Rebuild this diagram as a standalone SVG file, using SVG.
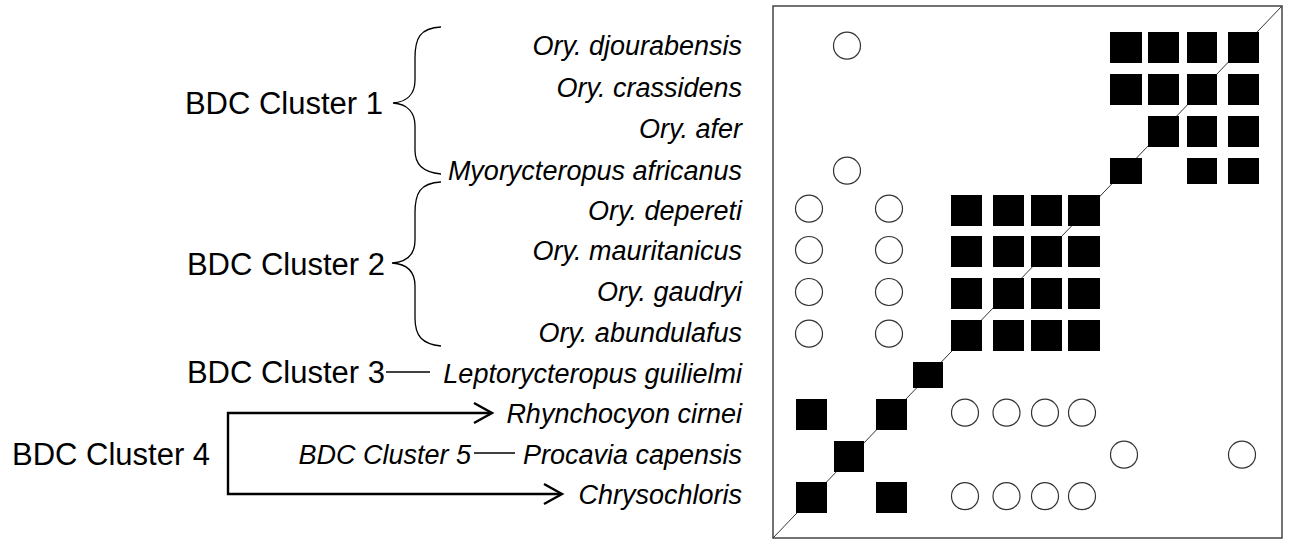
<svg xmlns="http://www.w3.org/2000/svg" width="1309" height="540" viewBox="0 0 1309 540">
<defs>
<style>
.sp{font-family:"Liberation Sans",Arial,sans-serif;font-style:italic;font-size:27px;fill:#000;text-anchor:end}
.cl{font-family:"Liberation Sans",Arial,sans-serif;font-size:31px;fill:#000}
.br{fill:none;stroke:#000;stroke-width:1.3}
.ln{fill:none;stroke:#000;stroke-width:1.3}
.bk{fill:none;stroke:#000;stroke-width:2.4}
.sq{fill:#000}
.ci{fill:#fff;stroke:#333;stroke-width:1.2}
</style>
</defs>
<rect width="1309" height="540" fill="#fff"/>
<g id="connectors">
<path class="br" d="M441,27 C420,28 415,38 415,58 L415,80 C415,94 407,102 393,103 C407,104 415,112 415,126 L415,150 C415,164 422,172 441,174"/>
<path class="br" d="M441,182 C420,183 415,193 415,213 L415,240 C415,254 407,262 392,263 C407,264 415,272 415,286 L415,318 C415,336 422,344 441,346"/>
<line class="ln" x1="386" y1="372" x2="430" y2="372"/>
<line class="ln" x1="474" y1="453" x2="515" y2="453"/>
<path class="bk" d="M491,413 H228 V494 H561"/>
<polyline class="bk" points="474,403 492,413 474,423"/>
<polyline class="bk" points="544,484 562,494 544,504"/>
</g>
<g id="cluster1"><text class="cl" x="383" y="114" text-anchor="end">BDC Cluster 1</text></g>
<g id="cluster2"><text class="cl" x="385" y="275" text-anchor="end">BDC Cluster 2</text></g>
<g id="cluster3"><text class="cl" x="385" y="383" text-anchor="end">BDC Cluster 3</text></g>
<g id="cluster4"><text class="cl" x="12" y="465">BDC Cluster 4</text></g>
<g id="cluster5"><text class="sp" x="471" y="464">BDC Cluster 5</text></g>
<g id="species">
<text class="sp" x="742" y="55">Ory. djourabensis</text>
<text class="sp" x="742" y="97">Ory. crassidens</text>
<text class="sp" x="742" y="138">Ory. afer</text>
<text class="sp" x="742" y="180">Myorycteropus africanus</text>
<text class="sp" x="742" y="220">Ory. depereti</text>
<text class="sp" x="742" y="260">Ory. mauritanicus</text>
<text class="sp" x="742" y="301">Ory. gaudryi</text>
<text class="sp" x="742" y="342">Ory. abundulafus</text>
<text class="sp" x="742" y="383">Leptorycteropus guilielmi</text>
<text class="sp" x="742" y="423">Rhynchocyon cirnei</text>
<text class="sp" x="742" y="464">Procavia capensis</text>
<text class="sp" x="742" y="504">Chrysochloris</text>
</g>
<g id="matrix">
<rect x="773" y="6" width="509" height="532" fill="#fff" stroke="#444" stroke-width="1.5"/>
<line x1="773" y1="538" x2="1282" y2="6" stroke="#333" stroke-width="1"/>
<g id="squares">
<rect class="sq" x="1110" y="32" width="32" height="31"/><rect class="sq" x="1148" y="32" width="31" height="31"/><rect class="sq" x="1187" y="32" width="30" height="31"/><rect class="sq" x="1228" y="32" width="31" height="31"/>
<rect class="sq" x="1110" y="74" width="32" height="31"/><rect class="sq" x="1148" y="74" width="31" height="31"/><rect class="sq" x="1187" y="74" width="30" height="31"/><rect class="sq" x="1228" y="74" width="31" height="31"/>
<rect class="sq" x="1148" y="116" width="31" height="31"/><rect class="sq" x="1187" y="116" width="30" height="31"/><rect class="sq" x="1228" y="116" width="31" height="31"/>
<rect class="sq" x="1110" y="158" width="32" height="26"/><rect class="sq" x="1187" y="158" width="30" height="26"/><rect class="sq" x="1228" y="158" width="31" height="26"/>
<rect class="sq" x="951" y="195" width="31" height="31"/><rect class="sq" x="993" y="195" width="31" height="31"/><rect class="sq" x="1031" y="195" width="31" height="31"/><rect class="sq" x="1068" y="195" width="32" height="31"/>
<rect class="sq" x="951" y="236" width="31" height="31"/><rect class="sq" x="993" y="236" width="31" height="31"/><rect class="sq" x="1031" y="236" width="31" height="31"/><rect class="sq" x="1068" y="236" width="32" height="31"/>
<rect class="sq" x="951" y="278" width="31" height="31"/><rect class="sq" x="993" y="278" width="31" height="31"/><rect class="sq" x="1031" y="278" width="31" height="31"/><rect class="sq" x="1068" y="278" width="32" height="31"/>
<rect class="sq" x="951" y="320" width="31" height="31"/><rect class="sq" x="993" y="320" width="31" height="31"/><rect class="sq" x="1031" y="320" width="31" height="31"/><rect class="sq" x="1068" y="320" width="32" height="31"/>
<rect class="sq" x="913" y="362" width="30" height="26"/>
<rect class="sq" x="796" y="399" width="31" height="31"/><rect class="sq" x="876" y="399" width="31" height="31"/>
<rect class="sq" x="834" y="441" width="30" height="31"/>
<rect class="sq" x="796" y="482" width="31" height="31"/><rect class="sq" x="876" y="482" width="31" height="31"/>
</g>
<g id="circles">
<circle class="ci" cx="847" cy="45.7" r="13.5"/>
<circle class="ci" cx="847" cy="170.7" r="13.5"/>
<circle class="ci" cx="809" cy="208.7" r="13.5"/><circle class="ci" cx="889" cy="208.7" r="13.5"/>
<circle class="ci" cx="809" cy="250" r="13.5"/><circle class="ci" cx="889" cy="250" r="13.5"/>
<circle class="ci" cx="809" cy="292" r="13.5"/><circle class="ci" cx="889" cy="292" r="13.5"/>
<circle class="ci" cx="809" cy="333.7" r="13.5"/><circle class="ci" cx="889" cy="333.7" r="13.5"/>
<circle class="ci" cx="965" cy="412.7" r="13.5"/><circle class="ci" cx="1006.5" cy="412.7" r="13.5"/><circle class="ci" cx="1045" cy="412.7" r="13.5"/><circle class="ci" cx="1082" cy="412.7" r="13.5"/>
<circle class="ci" cx="1124" cy="454.7" r="13.5"/><circle class="ci" cx="1242" cy="454.7" r="13.5"/>
<circle class="ci" cx="965" cy="496.2" r="13.5"/><circle class="ci" cx="1006.5" cy="496.2" r="13.5"/><circle class="ci" cx="1045" cy="496.2" r="13.5"/><circle class="ci" cx="1082" cy="496.2" r="13.5"/>
</g>
</g>
</svg>
